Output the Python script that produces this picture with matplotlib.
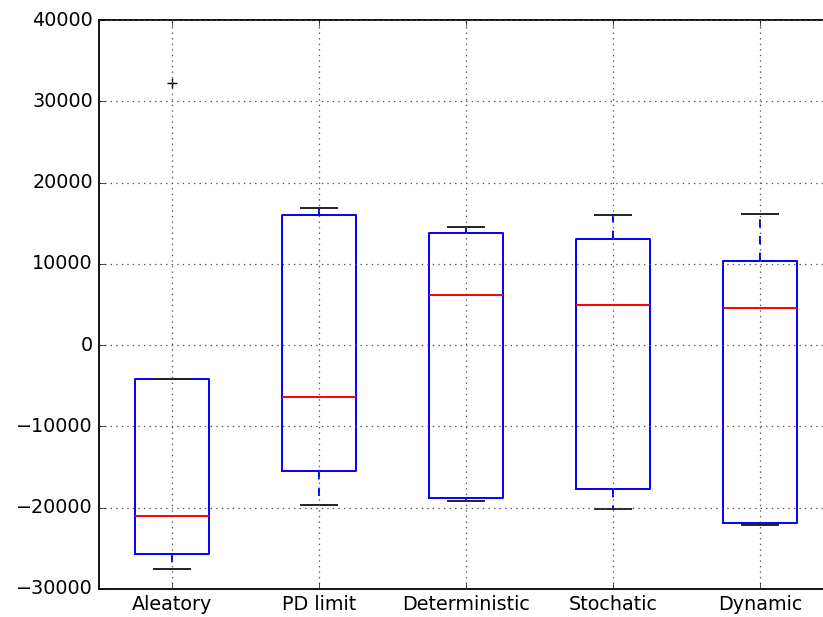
import matplotlib
matplotlib.use("Agg")
import matplotlib.pyplot as plt

plt.style.use("classic")

labels = ["Aleatory", "PD limit", "Deterministic", "Stochatic", "Dynamic"]
whislo = [-27550, -19650, -19200, -20200, -22100]
q1 = [-25700, -15500, -18750, -17700, -21850]
med = [-21050, -6350, 6150, 4950, 4550]
q3 = [-4200, 16000, 13800, 13050, 10400]
whishi = [-4200, 16850, 14550, 16000, 16150]
fliers = [[32200], [], [], [], []]

stats = []
for i in range(len(labels)):
    stats.append({"label": labels[i], "whislo": whislo[i], "q1": q1[i], "med": med[i],
                  "q3": q3[i], "whishi": whishi[i], "fliers": fliers[i]})

fig = plt.figure(figsize=(8.23, 6.17), dpi=100, facecolor="white")
ax = fig.add_axes([98.5 / 823, 28 / 617, 735 / 823, 569 / 617])

ax.bxp(stats, widths=0.5,
       boxprops=dict(color="blue", linewidth=1.4),
       whiskerprops=dict(color="blue", linestyle="--", linewidth=1.4),
       capprops=dict(color="#222222", linewidth=1.4),
       medianprops=dict(color="red", linewidth=1.4),
       flierprops=dict(marker="+", markeredgecolor="black", markersize=7, linestyle="none"))

ax.set_ylim(-30000, 40000)
ax.set_xlim(0.5, 5.5)
ax.grid(True, color="#555555", linestyle=":", linewidth=0.9)
ax.tick_params(labelsize=13.8)
for s in ax.spines.values():
    s.set_linewidth(1.3)
ax.spines["right"].set_visible(False)

fig.savefig("out.png", dpi=100, facecolor="white")
